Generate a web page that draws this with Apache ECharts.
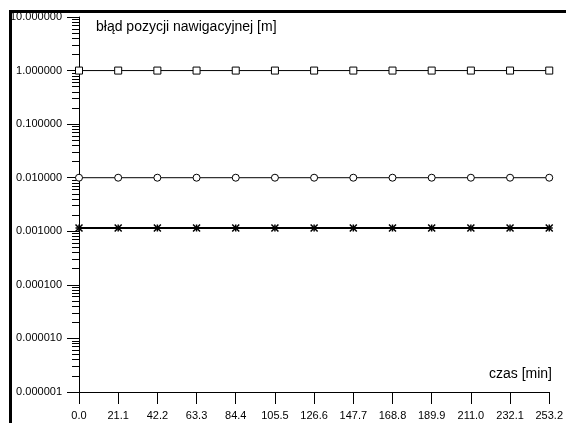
<!DOCTYPE html>
<html>
<head>
<meta charset="utf-8">
<script src="https://cdn.jsdelivr.net/npm/echarts@6/dist/echarts.min.js"></script>
<style>
  html, body { margin: 0; padding: 0; background: #fff; }
  #chart { width: 566px; height: 423px; }
</style>
</head>
<body>
<div id="chart"></div>
<script>
// czas [min]
const czas = [0.0, 21.1, 42.2, 63.3, 84.4, 105.5, 126.6, 147.7, 168.8, 189.9, 211.0, 232.1, 253.2];
// błąd pozycji [m]
const bladKwadraty = [1, 1, 1, 1, 1, 1, 1, 1, 1, 1, 1, 1, 1];
const bladKolka = [0.01, 0.01, 0.01, 0.01, 0.01, 0.01, 0.01, 0.01, 0.01, 0.01, 0.01, 0.01, 0.01];
const bladKrzyzyki = [0.00115, 0.00115, 0.00115, 0.00115, 0.00115, 0.00115, 0.00115, 0.00115, 0.00115, 0.00115, 0.00115, 0.00115, 0.00115];
const bladPlusy = [0.00115, 0.00115, 0.00115, 0.00115, 0.00115, 0.00115, 0.00115, 0.00115, 0.00115, 0.00115, 0.00115, 0.00115, 0.00115];
const dekady = [-6, -5, -4, -3, -2, -1, 0];

const chart = echarts.init(document.getElementById('chart'));

// podzialka pomocnicza (2..9 w kazdej dekadzie), liczona w log10
const minorTicks = [];
dekady.forEach(d => {
  for (let k = 2; k <= 9; k++) minorTicks.push(d + Math.log10(k));
});

const pary = arr => czas.map((t, i) => [t, arr[i]]);
const font = 'Liberation Sans, Arial, sans-serif';

const option = {
  animation: false,
  textStyle: { fontFamily: font },
  grid: { left: 79, right: 15, top: 17, bottom: 31 },
  title: [
    { text: 'błąd pozycji nawigacyjnej [m]', left: 91, top: 15,
      textStyle: { fontSize: 14, fontWeight: 'normal', color: '#000', fontFamily: font } },
    { text: 'czas [min]', right: 9, top: 362,
      textStyle: { fontSize: 14, fontWeight: 'normal', color: '#000', fontFamily: font } }
  ],
  xAxis: {
    type: 'value',
    min: 0,
    max: 253.2,
    interval: 21.1,
    axisLine: { onZero: false, lineStyle: { color: '#000', width: 1 } },
    axisTick: { inside: false, length: 12, lineStyle: { color: '#000' } },
    axisLabel: { margin: 18, color: '#000', fontSize: 11,
      formatter: v => v.toFixed(1) },
    splitLine: { show: false }
  },
  yAxis: [
    {
      type: 'log',
      logBase: 10,
      min: 1e-6,
      max: 10,
      axisLine: { show: true, onZero: false, lineStyle: { color: '#000', width: 1 } },
      axisTick: { show: true, length: 12, lineStyle: { color: '#000' } },
      axisLabel: { margin: 17, color: '#000', fontSize: 11,
        formatter: v => Number(v).toFixed(6) },
      splitLine: { show: false }
    },
    {
      type: 'value',
      min: -6,
      max: 1,
      position: 'left',
      axisLine: { show: false, onZero: false },
      axisTick: { show: true, length: 7, customValues: minorTicks,
        lineStyle: { color: '#000' } },
      axisLabel: { show: false },
      splitLine: { show: false }
    }
  ],
  graphic: [
    { type: 'rect', shape: { x: 9, y: 10, width: 557, height: 3 }, style: { fill: '#000' } },
    { type: 'rect', shape: { x: 9, y: 10, width: 3, height: 413 }, style: { fill: '#000' } }
  ],
  series: [
    {
      type: 'line', data: pary(bladKwadraty),
      symbol: 'rect', symbolSize: 7,
      lineStyle: { color: '#000', width: 1 },
      itemStyle: { color: '#fff', borderColor: '#000', borderWidth: 1 }
    },
    {
      type: 'line', data: pary(bladKolka),
      symbol: 'circle', symbolSize: 7,
      lineStyle: { color: '#000', width: 1 },
      itemStyle: { color: '#fff', borderColor: '#000', borderWidth: 1 }
    },
    {
      type: 'line', data: pary(bladKrzyzyki),
      symbol: 'path://M0,0L10,10M10,0L0,10', symbolSize: 7,
      lineStyle: { color: '#000', width: 2 },
      itemStyle: { color: 'none', borderColor: '#000', borderWidth: 1.5 }
    },
    {
      type: 'line', data: pary(bladPlusy),
      symbol: 'path://M5,0L5,10M0,5L10,5', symbolSize: 7,
      lineStyle: { color: '#000', width: 1.5 },
      itemStyle: { color: 'none', borderColor: '#000', borderWidth: 1.5 }
    }
  ]
};

chart.setOption(option);
</script>
</body>
</html>
